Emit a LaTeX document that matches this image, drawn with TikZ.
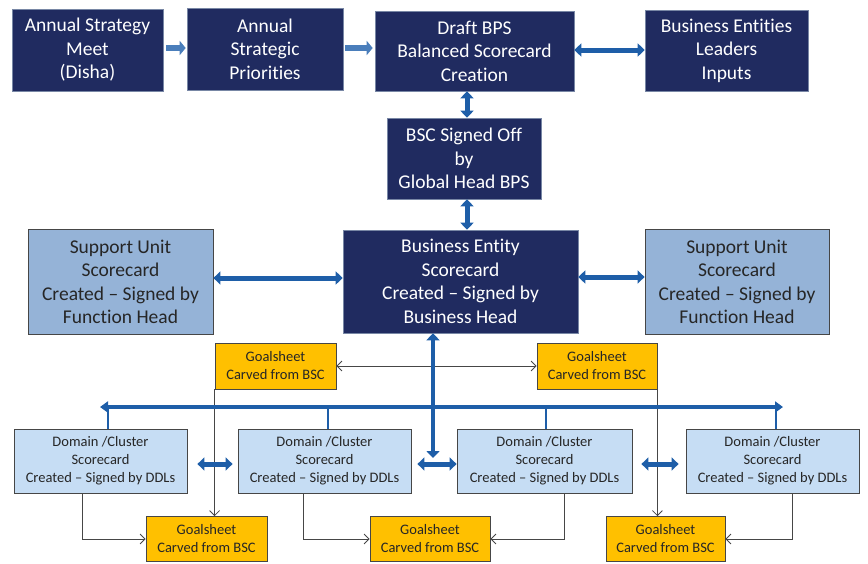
\documentclass[tikz,border=0pt]{standalone}
\usepackage{fontspec}
\setmainfont{Carlito}[Ligatures=NoCommon]
\usetikzlibrary{arrows.meta}

\definecolor{navy}{RGB}{32,43,96}
\definecolor{navyedge}{RGB}{120,135,165}
\definecolor{steel}{RGB}{149,179,215}
\definecolor{paleblue}{RGB}{198,221,244}
\definecolor{amber}{RGB}{255,192,0}
\definecolor{linkblue}{RGB}{30,94,168}
\definecolor{flowblue}{RGB}{74,126,187}
\definecolor{edgegray}{RGB}{70,70,70}

\tikzset{
  bigtext/.style={font=\fontsize{19.5}{23.5}\selectfont},
  smalltext/.style={font=\fontsize{14.5}{18}\selectfont},
  darkbox/.style={bigtext, fill=navy, draw=navyedge, line width=0.6pt,
    text=white, align=center, inner sep=0pt},
  supportbox/.style={bigtext, fill=steel, draw=edgegray, line width=0.8pt,
    text=black!85, align=center, inner sep=0pt},
  domainbox/.style={smalltext, fill=paleblue, draw=edgegray, line width=0.8pt,
    text=black!85, align=center, inner sep=0pt, minimum height=64pt},
  goalbox/.style={smalltext, fill=amber, draw=edgegray, line width=0.8pt,
    text=black!85, align=center, inner sep=0pt, minimum height=45pt},
  flowarrow/.style={draw=flowblue, line width=6pt,
    -{Triangle[width=14pt,length=6pt]}},
  twoway/.style={draw=linkblue, line width=5pt,
    {Triangle[width=13pt,length=7pt]}-{Triangle[width=13pt,length=7pt]}},
  busline/.style={draw=linkblue, line width=4.5pt,
    {Triangle[width=11pt,length=8pt]}-{Triangle[width=11pt,length=8pt]}},
  dropline/.style={draw=linkblue, line width=2.5pt},
  thinlink/.style={draw=edgegray, line width=0.8pt,
    -{Straight Barb[length=5pt,width=10pt]}},
}

\begin{document}
\begin{tikzpicture}[x=1pt,y=-1pt]
\useasboundingbox (0,0) rectangle (868,563);

% top row
\node[darkbox, minimum width=151pt, minimum height=82pt] (A) at (87.5,50)
  {Annual Strategy\\Meet\\(Disha)};
\node[darkbox, minimum width=156pt, minimum height=82pt] (B) at (265,49)
  {Annual\\Strategic\\Priorities};
\node[darkbox, minimum width=199pt, minimum height=80pt] (C) at (474.5,51)
  {Draft BPS\\Balanced Scorecard\\Creation};
\node[darkbox, minimum width=163pt, minimum height=81pt] (D) at (726.5,50.5)
  {Business Entities\\Leaders\\Inputs};

% sign-off and entity level
\node[darkbox, minimum width=154pt, minimum height=81pt] (BSC) at (464,158.5)
  {BSC Signed Off\\by\\Global Head BPS};
\node[darkbox, minimum width=235pt, minimum height=103pt] (BE) at (460.5,281.5)
  {Business Entity\\Scorecard\\Created -- Signed by\\Business Head};
\node[supportbox, minimum width=185pt, minimum height=105pt] (SU1) at (120.5,282)
  {Support Unit\\Scorecard\\Created -- Signed by\\Function Head};
\node[supportbox, minimum width=184pt, minimum height=105pt] (SU2) at (737,282)
  {Support Unit\\Scorecard\\Created -- Signed by\\Function Head};

% upper goalsheets
\node[goalbox, minimum width=121pt, minimum height=46pt] (GS1) at (275.5,366)
  {Goalsheet\\Carved from BSC};
\node[goalbox, minimum width=120pt, minimum height=46pt] (GS2) at (597,366)
  {Goalsheet\\Carved from BSC};

% domain / cluster level
\node[domainbox, minimum width=173pt] (D1) at (100.5,461)
  {Domain /Cluster\\Scorecard\\Created -- Signed by DDLs};
\node[domainbox, minimum width=173pt] (D2) at (324.5,461)
  {Domain /Cluster\\Scorecard\\Created -- Signed by DDLs};
\node[domainbox, minimum width=175pt] (D3) at (544.5,461)
  {Domain /Cluster\\Scorecard\\Created -- Signed by DDLs};
\node[domainbox, minimum width=173pt] (D4) at (772.5,461)
  {Domain /Cluster\\Scorecard\\Created -- Signed by DDLs};

% lower goalsheets
\node[goalbox, minimum width=121pt] (B1) at (206.5,539) {Goalsheet\\Carved from BSC};
\node[goalbox, minimum width=120pt] (B2) at (430,539) {Goalsheet\\Carved from BSC};
\node[goalbox, minimum width=119pt] (B3) at (665.5,539) {Goalsheet\\Carved from BSC};

% helper coordinates
\coordinate (rowtop) at (0,48);
\coordinate (rowcd) at (0,50);
\coordinate (colc) at (467,0);
\coordinate (rowsu1) at (0,278);
\coordinate (rowsu2) at (0,277);
\coordinate (colbus) at (433,0);
\coordinate (busend) at (433,458);
\coordinate (rowdom) at (0,464);
\coordinate (busL) at (100,407);
\coordinate (busR) at (783,407);

% top row flow
\draw[flowarrow, shorten <=3pt, shorten >=1pt] (A.east |- rowtop) -- (B.west |- rowtop);
\draw[flowarrow, shorten <=2pt, shorten >=2pt] (B.east |- rowtop) -- (C.west |- rowtop);
\draw[twoway] (C.east |- rowcd) -- (D.west |- rowcd);

% vertical chain
\draw[twoway] (C.south -| colc) -- (BSC.north -| colc);
\draw[twoway] (BSC.south -| colc) -- (BE.north -| colc);

% support units
\draw[twoway] (SU1.east |- rowsu1) -- (BE.west |- rowsu1);
\draw[twoway] (BE.east |- rowsu2) -- (SU2.west |- rowsu2);

% goalsheet links
\draw[thinlink, {Straight Barb[length=5pt,width=10pt]}-{Straight Barb[length=5pt,width=10pt]}]
  (GS1.east) -- (GS2.west);
\draw[thinlink] (GS1.south west) -- (GS1.south west |- B1.north);
\draw[thinlink] (GS2.south east) -- (GS2.south east |- B3.north);
\draw[thinlink] ([xshift=-18.5pt]D1.south) |- (B1.west);
\draw[thinlink] ([xshift=-21.5pt]D2.south) |- (B2.west);
\draw[thinlink] ([xshift=19.5pt]D3.south) |- (B2.east);
\draw[thinlink] ([xshift=19.5pt]D4.south) |- (B3.east);

% distribution bus to the domains
\draw[dropline] ([xshift=7.5pt]D1.north) -- ++(0,-22);
\draw[dropline] ([xshift=3.5pt]D2.north) -- ++(0,-22);
\draw[dropline] ([xshift=1.5pt]D3.north) -- ++(0,-22);
\draw[dropline] ([xshift=3.5pt]D4.north) -- ++(0,-22);
\draw[busline] (busL) -- (busR);

% entity to domain level
\draw[twoway, line width=4.5pt] (BE.south -| colbus) -- (busend);
\draw[twoway, shorten <=6pt] (D2.east |- rowdom) -- (D3.west |- rowdom);
\draw[twoway, shorten <=10pt, shorten >=5pt] (D1.east |- rowdom) -- (D2.west |- rowdom);
\draw[twoway, shorten <=9pt, shorten >=7pt] (D3.east |- rowdom) -- (D4.west |- rowdom);
\end{tikzpicture}
\end{document}
